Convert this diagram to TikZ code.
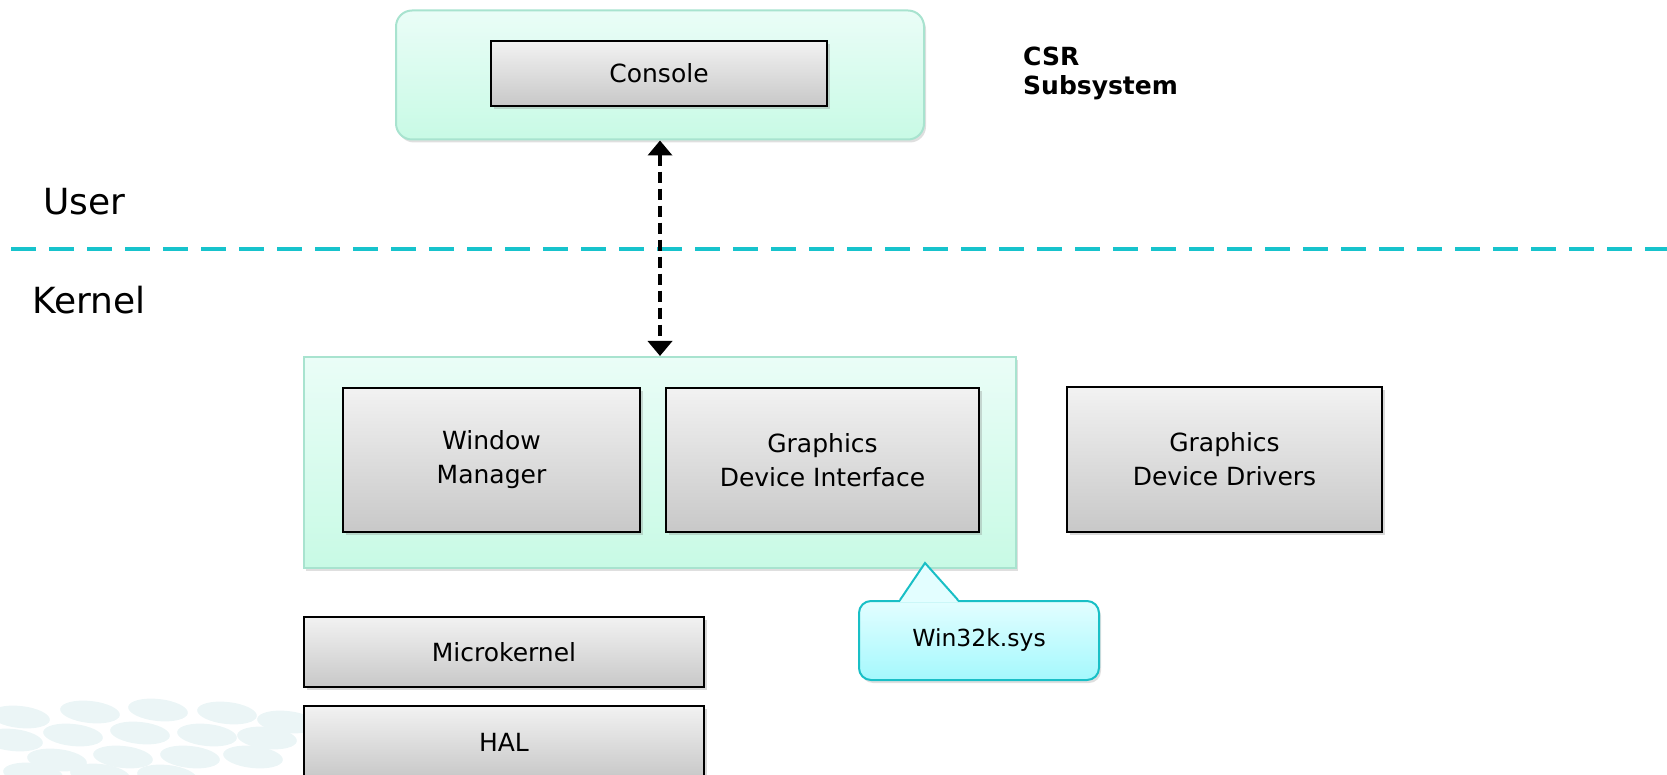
\documentclass[tikz,border=0pt]{standalone}
\usepackage{fontspec}
\setmainfont{DejaVu Sans}
\usetikzlibrary{shadows,arrows.meta,calc}
\definecolor{boxtop}{HTML}{F2F2F2}
\definecolor{boxbot}{HTML}{C8C8C8}
\definecolor{mintop}{HTML}{EAFDF7}
\definecolor{minbot}{HTML}{C8FAE5}
\definecolor{minborder}{HTML}{A8E3CF}
\definecolor{dashcyan}{HTML}{17C3CC}
\definecolor{calltop}{HTML}{E3FEFF}
\definecolor{callbot}{HTML}{A4F8FD}
\definecolor{callborder}{HTML}{19BFC6}
\definecolor{bgell}{HTML}{EBF5F6}
\tikzset{
  graybox/.style={draw=black, line width=1.9pt, top color=boxtop, bottom color=boxbot,
    drop shadow={shadow xshift=2.5pt, shadow yshift=-3pt, opacity=0.3},
    font=\fontsize{25}{34}\selectfont, align=center, inner sep=0pt},
  mintbox/.style={draw=minborder, line width=2pt, top color=mintop, bottom color=minbot,
    drop shadow={shadow xshift=2pt, shadow yshift=-3pt, opacity=0.25}, inner sep=0pt},
  callbox/.style={draw=callborder, line width=2pt, top color=calltop, bottom color=callbot,
    rounded corners=12pt, drop shadow={shadow xshift=2pt, shadow yshift=-3pt, opacity=0.25},
    font=\fontsize{23.5}{30}\selectfont, inner sep=0pt},
  sidelabel/.style={font=\fontsize{36}{40}\selectfont, anchor=west, inner sep=0pt},
  twoway/.style={line width=4.8pt, dash pattern=on 11pt off 6pt,
    {Triangle[width=24pt,length=15pt]}-{Triangle[width=24pt,length=15pt]}},
  divider/.style={draw=dashcyan, line width=4pt, dash pattern=on 25pt off 13pt},
  bubble/.style={fill=bgell}
}
\begin{document}
\begin{tikzpicture}[x=1pt,y=-1pt]
\useasboundingbox (0,0) rectangle (1667,775);
% background bubbles
\foreach \cx/\cy in {20/717,90/712,158/710,227/713,287/722,13/740,73/735,140/733,207/735,267/738,57/760,123/757,190/757,253/757,33/774,100/775,167/776}
  \fill[bubble, rotate around={-6:(\cx,\cy)}] (\cx,\cy) ellipse [x radius=30, y radius=11];
% user/kernel divider
\coordinate (dl) at (11,249);
\coordinate (dr) at (1667,249);
\draw[divider] (dl) -- (dr);
\node[sidelabel] (user) at (43,202) {User};
\node[sidelabel] (kernel) at (32,300) {Kernel};
% CSR subsystem
\node[mintbox, rounded corners=16pt, minimum width=528pt, minimum height=129pt] (csr) at (660,75) {};
\node[graybox, minimum width=336pt, minimum height=65pt] (console) at (659,73.5) {Console};
\node[font=\bfseries\fontsize{25}{29}\selectfont, align=left, anchor=north west, inner sep=0pt] (csrlbl) at (1023,47) {CSR\\Subsystem};
% kernel container
\node[mintbox, minimum width=712pt, minimum height=211pt] (win32k) at (660,462.5) {};
\node[graybox, minimum width=297pt, minimum height=144pt] (wm) at (491.5,460) {Window\\Manager};
\node[graybox, minimum width=313pt, minimum height=144pt] (gdi) at (822.5,460) {Graphics\\Device Interface};
\node[graybox, minimum width=315pt, minimum height=145pt] (gdd) at (1224.5,459.5) {Graphics\\Device Drivers};
\node[graybox, minimum width=400pt, minimum height=70pt] (micro) at (504,652) {Microkernel};
\node[graybox, minimum width=400pt, minimum height=72pt] (hal) at (504,742) {HAL};
% arrow
\draw[twoway] (csr.south) -- (csr.south |- win32k.north);
% callout
\node[callbox, minimum width=240pt, minimum height=79pt] (call) at (979,640.5) {Win32k.sys};
\coordinate (tip) at (925,563);
\fill[calltop] ($(call.north west)+(42,2)$) -- (tip) -- ($(call.north west)+(100,2)$) -- cycle;
\draw[callborder, line width=2pt, line join=miter] ($(call.north west)+(42,0)$) -- (tip) -- ($(call.north west)+(100,0)$);
\end{tikzpicture}
\end{document}
